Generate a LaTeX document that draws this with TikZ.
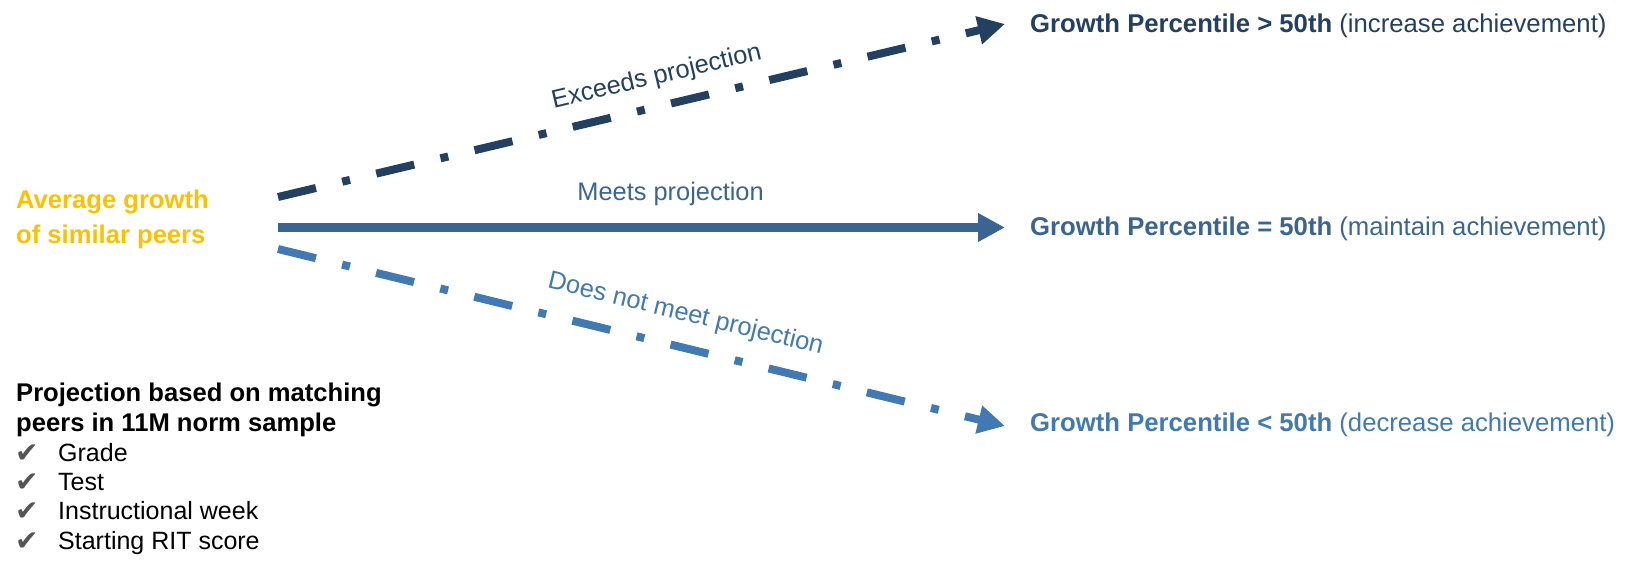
\documentclass[tikz,border=0pt]{standalone}
\usepackage{fontspec}
\setmainfont{Liberation Sans}
\newfontfamily\checkfont{DejaVu Sans}
\usepackage{xcolor}
\usetikzlibrary{positioning, calc, arrows.meta}

\definecolor{navyHi}{HTML}{234060}
\definecolor{blueMid}{HTML}{3A6592}
\definecolor{blueLo}{HTML}{4179B2}
\definecolor{peerGold}{HTML}{FFC000}
\definecolor{tickGray}{HTML}{555555}

\tikzset{
    txt/.style={inner sep=0pt, font=\fontsize{25}{29.5}\selectfont},
    outcome/.style={txt, anchor=base west, font=\fontsize{25.7}{30}\selectfont},
    lbl/.style={txt, inner sep=2pt, font=\fontsize{25.4}{30}\selectfont},
    dashdot/.style={line width=8pt, dash pattern=on 39pt off 27pt on 8pt off 27pt},
    tip/.style={-{Triangle[length=27pt, width=27pt]}}
}

\begin{document}
\begin{tikzpicture}[x=1pt, y=-1pt]
    \useasboundingbox (0,0) rectangle (1625,560);

    % Starting point: average growth of similar peers
    \node[txt, anchor=base west, align=left, text=peerGold,
          font=\bfseries\fontsize{25.6}{35}\selectfont] (avg) at (16,243)
          {Average growth\\of similar peers};

    % Free ends of the three arrows
    \coordinate (sHi)  at (278,197);
    \coordinate (sMid) at (278,227.5);
    \coordinate (sLo)  at (278,249);
    \coordinate (eHi)  at (1005,24);
    \coordinate (eMid) at (1005,227.5);
    \coordinate (eLo)  at (1005,426);

    % Outcome texts on the right
    \node[outcome, text=navyHi] (gHi) at (1030,32)
          {\textbf{Growth Percentile > 50th} (increase achievement)};
    \node[outcome, text=blueMid] (gMid) at (1030,235)
          {\textbf{Growth Percentile = 50th} (maintain achievement)};
    \node[outcome, text=blueLo] (gLo) at (1030,431)
          {\textbf{Growth Percentile < 50th} (decrease achievement)};

    % Exceeds projection
    \draw[dashdot, tip, navyHi] (sHi) -- (eHi)
          node[lbl, pos=0.53, sloped, above=11pt, text=navyHi] (lHi) {Exceeds projection};

    % Meets projection
    \draw[line width=9pt, tip, blueMid] (sMid) -- (eMid)
          node[lbl, pos=0.54, above=15pt, text=blueMid] (lMid) {Meets projection};

    % Does not meet projection
    \draw[dashdot, tip, blueLo] (sLo) -- (eLo)
          node[lbl, pos=0.55, sloped, above=15pt, text=blueLo] (lLo) {Does not meet projection};

    % How the projection is made
    \node[txt, anchor=base west, align=left, font=\bfseries\fontsize{25.6}{30}\selectfont]
          (proj) at (16,431) {Projection based on matching\\peers in 11M norm sample};
    \foreach \i/\crit in {0/Grade, 1/Test, 2/Instructional week, 3/Starting RIT score}{
        \node[txt, anchor=base west, text=tickGray, font=\checkfont\fontsize{28}{30}\selectfont]
              (tick\i) at (15,462+29.4*\i) {✔};
        \node[txt, anchor=base west] (crit\i) at (58,461+29.4*\i) {\crit};
    }

\end{tikzpicture}
\end{document}
